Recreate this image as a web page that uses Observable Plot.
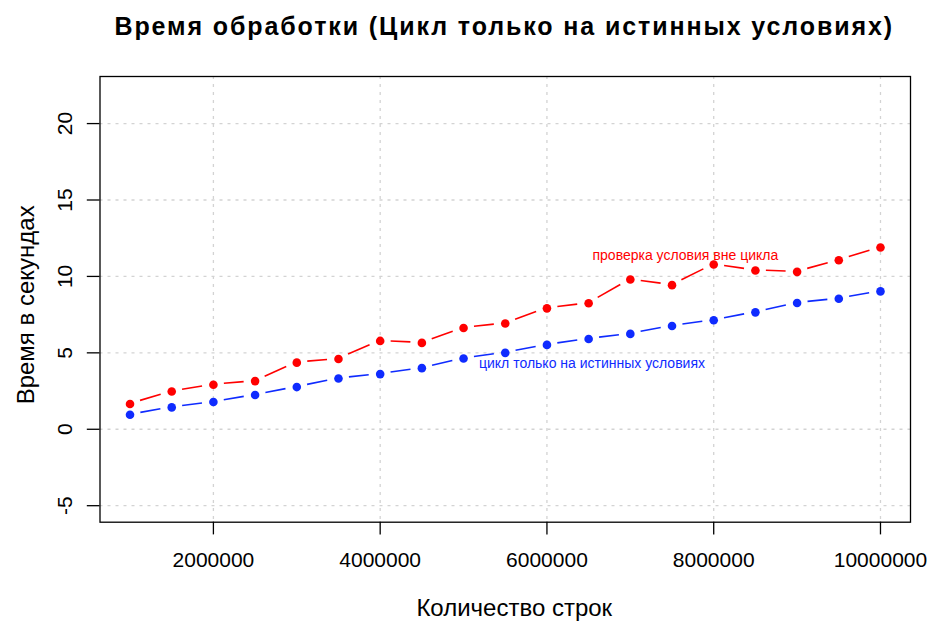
<!DOCTYPE html>
<html>
<head>
<meta charset="utf-8">
<script src="https://cdn.jsdelivr.net/npm/d3@7"></script>
<script src="https://cdn.jsdelivr.net/npm/@observablehq/plot@0.6"></script>
<style>
  html, body { margin: 0; padding: 0; background: #fff; }
  svg { display: block; }
</style>
</head>
<body>
<div id="chart"></div>
<script>
// ---- data ----
const rows = [1000000,1500000,2000000,2500000,3000000,3500000,4000000,4500000,5000000,5500000,
              6000000,6500000,7000000,7500000,8000000,8500000,9000000,9500000,10000000];
const outsideLoop = [1.65,2.47,2.91,3.15,4.36,4.60,5.78,5.65,6.63,6.92,
                     7.91,8.24,9.80,9.43,10.78,10.39,10.30,11.06,11.89];
const trueOnlyLoop = [0.95,1.43,1.78,2.24,2.76,3.32,3.61,4.00,4.63,5.00,
                      5.52,5.91,6.24,6.76,7.13,7.65,8.26,8.54,9.02];
const xTicks = [2000000,4000000,6000000,8000000,10000000];
const yTicks = [-5,0,5,10,15,20];
const titleText = "Время обработки (Цикл только на истинных условиях)";
const xLabel = "Количество строк";
const yLabel = "Время в секундах";
const RED = "#ff0000", BLUE = "#0f2bff";
const seriesLabels = [
  {x: 7660000, y: 11.4, text: "проверка условия вне цикла", color: RED},
  {x: 6540000, y: 4.28, text: "цикл только на истинных условиях", color: BLUE}
];

const pts = (ys) => rows.map((x, i) => ({x, y: ys[i]}));
const segs = (ys) => rows.slice(1).map((x, i) => ({x1: rows[i], y1: ys[i], x2: x, y2: ys[i + 1]}));

const GAP = 11;
function gappedRender(color) {
  return function(index, scales, values) {
    const g = d3.create("svg:g");
    for (const i of index) {
      const x1 = values.x1[i], y1 = values.y1[i], x2 = values.x2[i], y2 = values.y2[i];
      const dx = x2 - x1, dy = y2 - y1, L = Math.hypot(dx, dy);
      if (L <= 2 * GAP) continue;
      const ux = dx / L, uy = dy / L;
      g.append("line")
        .attr("x1", x1 + ux * GAP).attr("y1", y1 + uy * GAP)
        .attr("x2", x2 - ux * GAP).attr("y2", y2 - uy * GAP)
        .attr("stroke", color).attr("stroke-width", 1.6);
    }
    return g.node();
  };
}

const FONT = "Liberation Sans, Arial, Helvetica, sans-serif";

const chart = Plot.plot({
  width: 948,
  height: 641,
  marginLeft: 99.5,
  marginRight: 38,
  marginTop: 76,
  marginBottom: 119.3,
  style: {fontFamily: FONT, background: "#fff", color: "#000"},
  x: {domain: [640000, 10360000]},
  y: {domain: [-6.08, 23.08]},
  marks: [
    Plot.gridX(xTicks, {stroke: "#d3d3d3", strokeOpacity: 1, strokeWidth: 1.3, strokeDasharray: "3,5"}),
    Plot.gridY(yTicks, {stroke: "#d3d3d3", strokeOpacity: 1, strokeWidth: 1.3, strokeDasharray: "3,5"}),
    Plot.frame({stroke: "#000", strokeWidth: 1.3}),
    Plot.axisX({ticks: xTicks, tickSize: 12.7, tickPadding: 17, tickFormat: d => String(d), fontSize: 21, label: null, strokeWidth: 1.3}),
    Plot.axisY({ticks: yTicks, tickSize: 12.7, tickFormat: () => "", label: null, strokeWidth: 1.3}),
    Plot.text(yTicks, {y: d => d, text: d => String(d), frameAnchor: "left", dx: -34.5, rotate: -90, fontSize: 21, textAnchor: "middle", lineAnchor: "middle", fill: "#000"}),
    Plot.link(segs(outsideLoop), {x1: "x1", y1: "y1", x2: "x2", y2: "y2", stroke: RED, render: gappedRender(RED)}),
    Plot.link(segs(trueOnlyLoop), {x1: "x1", y1: "y1", x2: "x2", y2: "y2", stroke: BLUE, render: gappedRender(BLUE)}),
    Plot.dot(pts(outsideLoop), {x: "x", y: "y", r: 4.3, fill: RED, stroke: "none"}),
    Plot.dot(pts(trueOnlyLoop), {x: "x", y: "y", r: 4.3, fill: BLUE, stroke: "none"}),
    Plot.text(seriesLabels, {x: "x", y: "y", text: "text", fill: "color", fontSize: 14, textAnchor: "middle", lineAnchor: "middle"}),
    Plot.text([titleText], {frameAnchor: "top", dy: -49.4, dx: -1, fontSize: 25, fontWeight: "bold", lineAnchor: "middle", fill: "#000"}),
    Plot.text([xLabel], {frameAnchor: "bottom", dy: 86.3, dx: 9, fontSize: 24, lineAnchor: "middle", fill: "#000"}),
    Plot.text([yLabel], {frameAnchor: "left", dx: -73.5, dy: 5.5, rotate: -90, fontSize: 24, textAnchor: "middle", lineAnchor: "middle", fill: "#000"})
  ]
});
// letter spacing to match the reference's wide title
d3.select(chart).selectAll("text").filter(function() { return this.textContent === titleText; })
  .attr("letter-spacing", "1.9px");
document.getElementById("chart").appendChild(chart);
</script>
</body>
</html>
